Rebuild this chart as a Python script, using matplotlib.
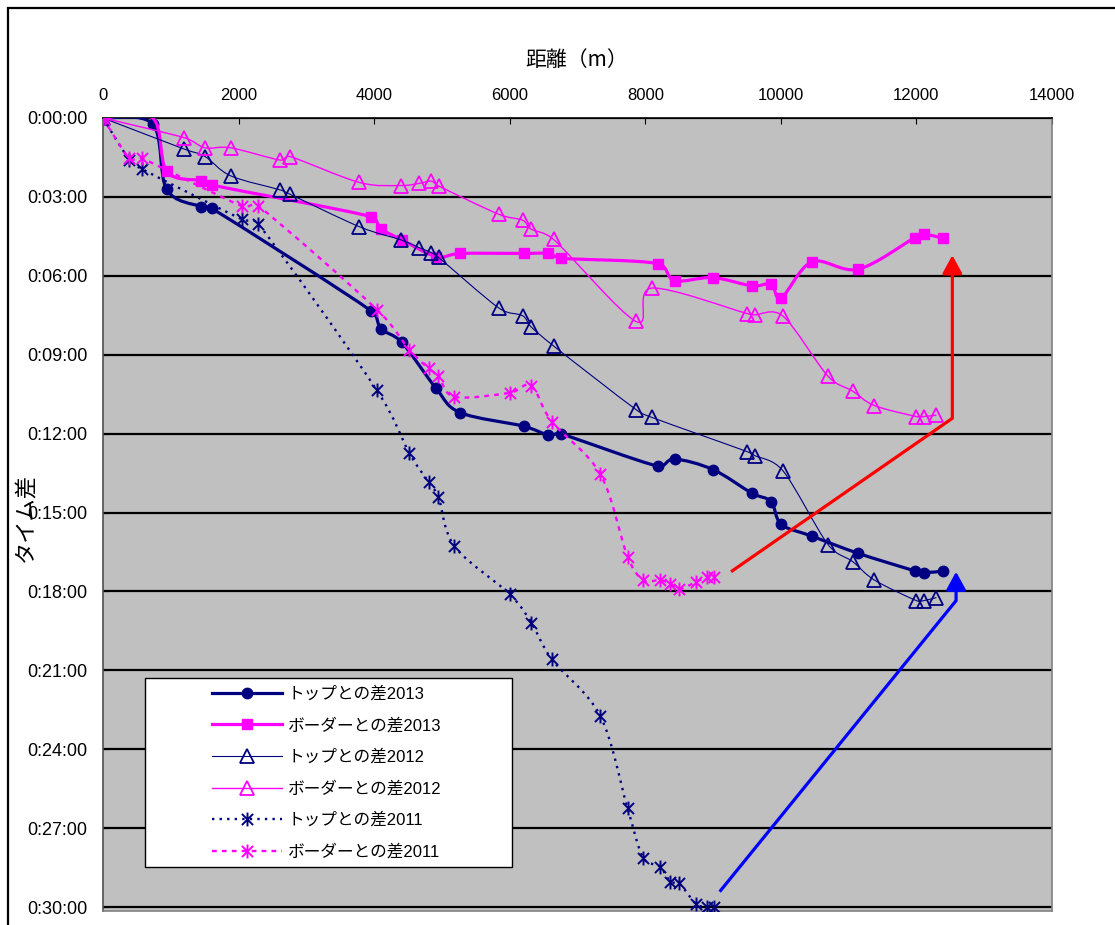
import matplotlib

matplotlib.use("Agg")
import matplotlib.pyplot as plt
import numpy as np
from matplotlib.lines import Line2D
from matplotlib.patches import PathPatch, Rectangle
from matplotlib.path import Path
from matplotlib.ticker import FuncFormatter, MultipleLocator

plt.rcParams["font.family"] = ["Liberation Sans", "Noto Sans CJK JP"]

# distance (m) / time gap (s)
top13_dist = [0, 733, 940, 1446, 1604, 3956, 4103, 4409, 4915, 5269, 6204, 6563, 6760,
              8182, 8433, 8999, 9574, 9854, 10007, 10460, 11140, 11975, 12108, 12388]
top13_gap = [0, 14, 163, 202, 206, 440, 481, 512, 617, 672, 703, 723, 721,
             794, 778, 802, 856, 875, 927, 954, 993, 1033, 1037, 1034]

border13_dist = [0, 733, 940, 1446, 1604, 3956, 4103, 4409, 4915, 5269, 6204, 6563, 6760,
                 8182, 8433, 8999, 9574, 9854, 10007, 10460, 11140, 11975, 12108, 12388]
border13_gap = [0, 0, 122, 143, 153, 225, 253, 278, 316, 309, 309, 309, 320,
                332, 371, 364, 383, 379, 410, 328, 345, 273, 265, 274]

dist12 = [0, 1200, 1506, 1885, 2613, 2760, 3783, 4394, 4669, 4842, 4950, 5845, 6189,
          6313, 6647, 7862, 8098, 9501, 9614, 10032, 10696, 11060, 11380, 12000, 12108, 12295]
top12_gap = [0, 71, 88, 132, 164, 174, 248, 278, 296, 307, 318, 434, 451,
             476, 520, 665, 683, 761, 770, 805, 973, 1012, 1054, 1101, 1101, 1094]
border12_gap = [0, 45, 68, 68, 96, 88, 147, 154, 149, 144, 155, 220, 233,
                253, 277, 464, 388, 446, 449, 452, 589, 623, 656, 681, 681, 678]

dist11 = [0, 388, 571, 2047, 2293, 4040, 4521, 4802, 4949, 5185, 5997, 6317, 6623,
          7336, 7739, 7966, 8216, 8369, 8502, 8750, 8905, 9008]
top11_gap = [0, 95, 116, 231, 242, 621, 765, 830, 865, 977, 1086, 1151, 1235,
             1364, 1575, 1687, 1708, 1742, 1746, 1793, 1799, 1799]
border11_gap = [0, 92, 92, 201, 201, 437, 529, 571, 588, 636, 627, 611, 693,
                812, 1001, 1054, 1054, 1062, 1075, 1058, 1047, 1047]

labels = ["トップとの差2013", "ボーダーとの差2013", "トップとの差2012",
          "ボーダーとの差2012", "トップとの差2011", "ボーダーとの差2011"]

# hand-drawn arrows (distance, seconds)
red_arrow = [(9265, 1035), (12530, 685), (12530, 313)]
blue_arrow = [(9097, 1765), (12585, 1101), (12585, 1035)]

NAVY = "#000080"
MAGENTA = "#FF00FF"

W, H = 1115, 925
fig = plt.figure(figsize=(W / 100, H / 100), dpi=100)
ax = fig.add_axes([103 / W, 1 - 911 / H, 949 / W, 793 / H])
ax.set_facecolor("#C0C0C0")
XMAX, YMAX = 14000, 1809
ax.set_xlim(0, XMAX)
ax.set_ylim(YMAX, 0)

# pixels per data unit, used to limit the smoothing tangents like a spreadsheet does
sx = 949 / XMAX
sy = 793 / YMAX


def smooth_path(xs, ys):
    pts = np.column_stack([xs, ys]).astype(float)
    scr = pts * [sx, sy]
    n = len(pts)
    verts = [pts[0]]
    codes = [Path.MOVETO]
    for i in range(n - 1):
        a = i - 1 if i > 0 else i
        d = i + 2 if i + 2 < n else i + 1
        p0, p1, p2, p3 = pts[a], pts[i], pts[i + 1], pts[d]
        d12 = np.hypot(*(scr[i + 1] - scr[i]))
        d02 = np.hypot(*(scr[i + 1] - scr[a]))
        d13 = np.hypot(*(scr[d] - scr[i]))
        f1 = 1 / 6 if d02 / 6 < d12 / 2 else d12 / (2 * d02)
        f2 = 1 / 6 if d13 / 6 < d12 / 2 else d12 / (2 * d13)
        verts += [p1 + f1 * (p2 - p0), p2 - f2 * (p3 - p1), p2]
        codes += [Path.CURVE4] * 3
    return Path(verts, codes)


asterisk = Path([(-1, -1), (1, 1), (-1, 1), (1, -1), (0, -1.25), (0, 1.25)],
                [Path.MOVETO, Path.LINETO] * 3)

series = [
    (top13_dist, top13_gap, NAVY, 2.3, "-", dict(marker="o", ms=7.5, mfc=NAVY, mec=NAVY), None),
    (border13_dist, border13_gap, MAGENTA, 2.3, "-", dict(marker="s", ms=7, mfc=MAGENTA, mec=MAGENTA),
     [0] + list(range(2, len(border13_dist)))),
    (dist12, top12_gap, NAVY, 0.8, "-", dict(marker="^", ms=10, mfc="none", mec=NAVY, mew=1.3), None),
    (dist12, border12_gap, MAGENTA, 1.0, "-", dict(marker="^", ms=10, mfc="none", mec=MAGENTA, mew=1.3), None),
    (dist11, top11_gap, NAVY, 1.7, (0, (1.0, 2.2)), dict(marker=asterisk, ms=10, mec=NAVY, mew=1.4), None),
    (dist11, border11_gap, MAGENTA, 1.7, (0, (2.0, 2.2)), dict(marker=asterisk, ms=10, mec=MAGENTA, mew=1.4), None),
]

handles = []
for k, (xs, ys, color, lw, ls, mk, every) in enumerate(series):
    z = 3 + k
    ax.add_patch(PathPatch(smooth_path(xs, ys), fill=False, edgecolor=color, lw=lw,
                           linestyle=ls, capstyle="butt", zorder=z))
    mx = xs if every is None else [xs[i] for i in every]
    my = ys if every is None else [ys[i] for i in every]
    ax.plot(mx, my, linestyle="none", zorder=z + 0.5, **mk)
    handles.append(Line2D([], [], color=color, lw=lw, linestyle=ls, **mk))

for path, color in ((red_arrow, "#FF0000"), (blue_arrow, "#0000FF")):
    px, py = zip(*path[:2])
    ax.plot(px, py, color=color, lw=2.3, solid_capstyle="butt", zorder=12)
    ax.annotate("", xy=path[2], xytext=path[1],
                arrowprops=dict(arrowstyle="-|>,head_length=0.55,head_width=0.3",
                                mutation_scale=20, color=color, lw=2.3,
                                shrinkA=0, shrinkB=0),
                zorder=12)

# axes, ticks and gridlines
ax.xaxis.tick_top()
ax.xaxis.set_major_locator(MultipleLocator(2000))
ax.yaxis.set_major_locator(MultipleLocator(180))
ax.yaxis.set_major_formatter(FuncFormatter(
    lambda v, _: f"{int(v) // 3600}:{int(v) % 3600 // 60:02d}:{int(v) % 60:02d}"))
ax.tick_params(axis="x", direction="in", length=4, pad=11, labelsize=12, color="black")
ax.tick_params(axis="y", direction="in", length=4, pad=11, labelsize=13, color="black")
ax.grid(axis="y", color="black", lw=1.6, zorder=1)
ax.set_axisbelow(True)
ax.spines["top"].set_color("black")
ax.spines["left"].set_color("#505050")
ax.spines["right"].set_color("#808080")
ax.spines["bottom"].set_color("#808080")
for s in ax.spines.values():
    s.set_linewidth(1.2)

fig.text(577 / W, 1 - 60 / H, "距離（m）", ha="center", va="center", fontsize=15,
         family=["Noto Sans CJK JP"])
fig.text(26 / W, 1 - 517 / H, "タイム差", ha="center", va="center", rotation=90,
         fontsize=16, family=["Noto Sans CJK JP"])

# legend box
ax.add_patch(Rectangle((145 / W, 1 - 867 / H), 367 / W, 189 / H, transform=fig.transFigure,
                       facecolor="white", edgecolor="black", lw=1.0, zorder=20, clip_on=False))
leg = ax.legend(handles, labels, loc="upper left", bbox_to_anchor=(212 / W, 1 - 686 / H),
                bbox_transform=fig.transFigure, frameon=False, fontsize=12,
                handlelength=4.2, handletextpad=0.35, labelspacing=0.95, borderpad=0,
                borderaxespad=0)
leg.set_zorder(21)

# outer chart frame
fig.add_artist(Rectangle((8 / W, -0.2), 1.5, 1.2 - 8 / H, transform=fig.transFigure,
                         facecolor="none", edgecolor="black", lw=1.6))

fig.savefig("out.png", dpi=100)
